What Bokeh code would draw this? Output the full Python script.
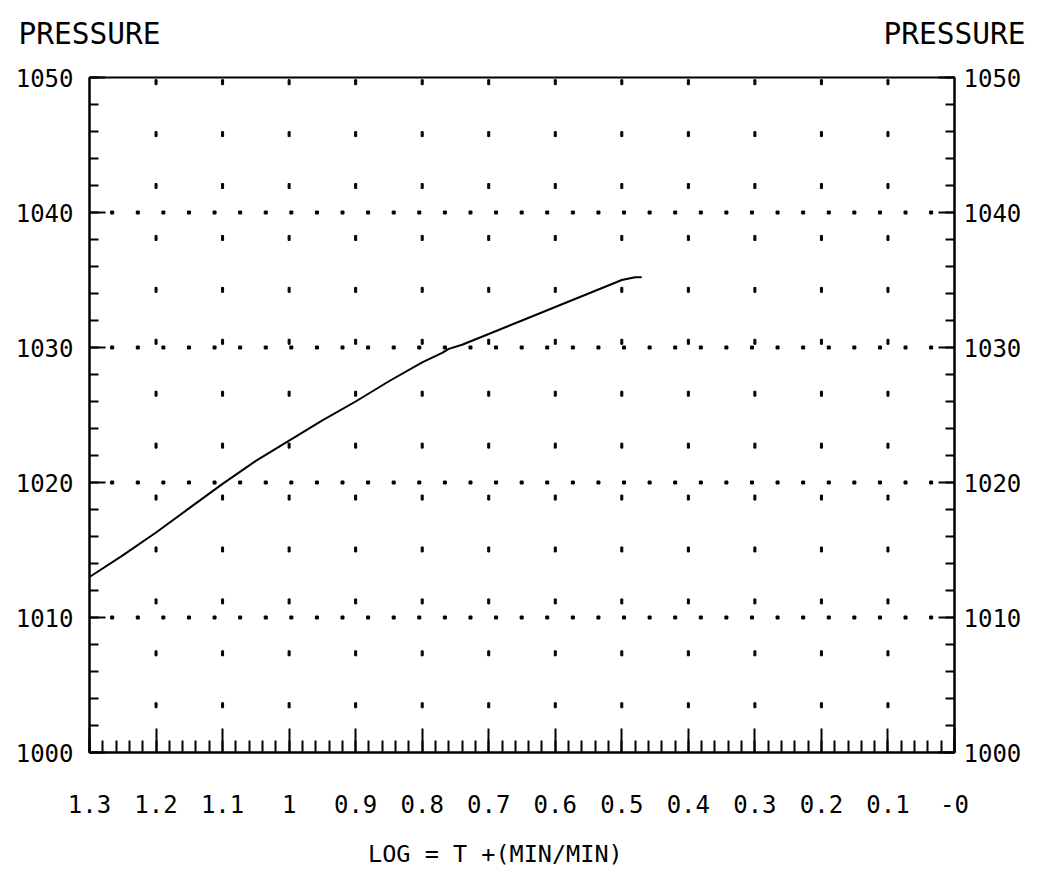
import numpy as np
from bokeh.plotting import figure
from bokeh.models import Range1d, LinearAxis, FixedTicker, CustomJSTickFormatter
from bokeh.embed import file_html
from bokeh.resources import INLINE

# ---- data ----
log_t = [1.30, 1.25, 1.20, 1.15, 1.10, 1.05, 1.00, 0.95, 0.90, 0.85, 0.80,
         0.77, 0.76, 0.74, 0.70, 0.65, 0.60, 0.55, 0.50, 0.48, 0.47]
pressure = [1013.0, 1014.6, 1016.3, 1018.1, 1019.9, 1021.6, 1023.1, 1024.6,
            1026.0, 1027.5, 1028.9, 1029.6, 1029.9, 1030.2, 1031.0, 1032.0,
            1033.0, 1034.0, 1035.0, 1035.2, 1035.2]
x_ticks = [1.3, 1.2, 1.1, 1.0, 0.9, 0.8, 0.7, 0.6, 0.5, 0.4, 0.3, 0.2, 0.1, 0.0]
x_tick_labels = ["1.3", "1.2", "1.1", "1", "0.9", "0.8", "0.7", "0.6", "0.5",
                 "0.4", "0.3", "0.2", "0.1", "-0"]
y_ticks = [1000, 1010, 1020, 1030, 1040, 1050]
dotted_levels = [1010, 1020, 1030, 1040]
y_title = "PRESSURE"
x_title = "LOG = T +(MIN/MIN)"

FONT = "DejaVu Sans Mono"

p = figure(width=1040, height=876,
           x_range=Range1d(1.3, 0.0), y_range=Range1d(1000, 1050),
           output_backend="svg", toolbar_location=None,
           min_border_left=89, min_border_right=86,
           min_border_top=77, min_border_bottom=124,
           background_fill_color="white", border_fill_color="white",
           outline_line_color="black", outline_line_width=2)
p.grid.visible = False

# bottom axis
xa = p.xaxis[0]
xa.ticker = FixedTicker(ticks=x_ticks,
                        minor_ticks=[round(v, 2) for v in np.arange(0, 1.3001, 0.02)])
xa.formatter = CustomJSTickFormatter(args=dict(tvals=x_ticks, tlabs=x_tick_labels), code="""
const i = tvals.findIndex(t => Math.abs(t - tick) < 1e-6);
return i >= 0 ? tlabs[i] : "";
""")
xa.major_tick_in = 24
xa.major_tick_out = 0
xa.minor_tick_in = 12
xa.minor_tick_out = 0
xa.major_tick_line_width = 2
xa.minor_tick_line_width = 2
xa.axis_line_width = 2
xa.major_label_standoff = 42
xa.major_label_text_font = FONT
xa.major_label_text_font_size = "24px"
xa.major_label_text_color = "black"

# x title (as a single-tick axis placed under the tick labels)
xt = LinearAxis(ticker=FixedTicker(ticks=[0.69], minor_ticks=[]),
                formatter=CustomJSTickFormatter(args=dict(txt=x_title), code="return txt;"))
xt.axis_line_color = None
xt.major_tick_in = 0
xt.major_tick_out = 0
xt.minor_tick_in = 0
xt.minor_tick_out = 0
xt.major_label_standoff = 24
xt.major_label_text_font = FONT
xt.major_label_text_font_size = "23.5px"
xt.major_label_text_color = "black"
p.add_layout(xt, "below")

# "PRESSURE" headers above each pressure axis
pt = LinearAxis(ticker=FixedTicker(ticks=[1.3, 0.0], minor_ticks=[]),
                formatter=CustomJSTickFormatter(args=dict(txt=y_title), code="return txt;"))
pt.axis_line_color = None
pt.major_tick_in = 0
pt.major_tick_out = 0
pt.minor_tick_in = 0
pt.minor_tick_out = 0
pt.major_label_standoff = 27
pt.major_label_text_font = FONT
pt.major_label_text_font_size = "29.5px"
pt.major_label_text_color = "black"
p.add_layout(pt, "above")

def style_y(ax, standoff):
    ax.ticker = FixedTicker(ticks=y_ticks, minor_ticks=list(range(1000, 1051, 2)))
    ax.major_tick_in = 16
    ax.major_tick_out = 0
    ax.minor_tick_in = 9
    ax.minor_tick_out = 0
    ax.major_tick_line_width = 2
    ax.minor_tick_line_width = 2
    ax.axis_line_width = 2
    ax.major_label_standoff = standoff
    ax.major_label_text_font = FONT
    ax.major_label_text_font_size = "24px"
    ax.major_label_text_color = "black"

style_y(p.yaxis[0], 16)
ra = LinearAxis()
style_y(ra, 9)
p.add_layout(ra, "right")

# dotted horizontal grid lines
dot_x = [1.2659 - k * 0.5 / 13 for k in range(33)]
gx, gy = [], []
for lv in dotted_levels:
    gx += dot_x
    gy += [lv] * len(dot_x)
p.scatter(gx, gy, marker="square", size=3, color="black")

# small vertical dash grid
dash_x = x_ticks[1:-1]
dash_y = [1003.5 + k * 50 / 13 for k in range(13)]
dx, dy = [], []
for yy in dash_y:
    dx += dash_x
    dy += [yy] * len(dash_x)
p.rect(dx, dy, width=2, height=5, width_units="screen", height_units="screen",
       color="black")

# curve
p.line(log_t, pressure, line_color="black", line_width=2)

open("out.html", "w").write(file_html(p, INLINE))
